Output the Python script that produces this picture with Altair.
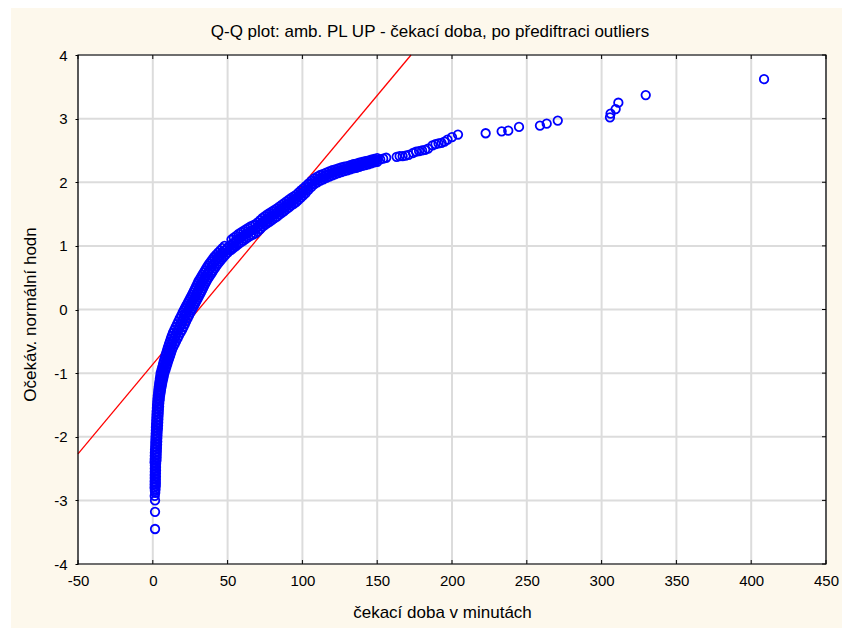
import altair as alt
import pandas as pd

# ---------------- text ----------------
title_text = "Q-Q plot: amb. PL UP - čekací doba, po přediftraci outliers"
x_title = "čekací doba v minutách"
y_title = "Očekáv. normální hodn"

x_ticks = [-50, 0, 50, 100, 150, 200, 250, 300, 350, 400, 450]
y_ticks = [-4, -3, -2, -1, 0, 1, 2, 3, 4]

# ---------------- data ----------------
# lowest isolated points
tail_low_x = [1.5, 1.5, 1.5, 1.3, 1.6, 1.4, 1.8]
tail_low_y = [-3.45, -3.18, -3.0, -2.93, -2.88, -2.85, -2.83]

# steep lower part of the curve (x close to 0)
seg_a_y = [-2.800, -2.775, -2.750, -2.725, -2.700, -2.675, -2.650, -2.625, -2.600, -2.575,
           -2.550, -2.525, -2.500, -2.475, -2.450, -2.425, -2.400, -2.375, -2.350, -2.325,
           -2.300, -2.275, -2.250, -2.225, -2.200, -2.175, -2.150, -2.125, -2.100, -2.075,
           -2.050, -2.025, -2.000, -1.975, -1.950, -1.925, -1.900, -1.875, -1.850, -1.825,
           -1.800, -1.775, -1.750, -1.725, -1.700, -1.675, -1.650, -1.625, -1.600, -1.575,
           -1.550, -1.525, -1.500, -1.475, -1.450, -1.425]
seg_a_x = [1.2, 2.0, 1.25, 2.05, 1.25, 2.05, 1.3, 2.1, 1.3, 2.1,
           1.35, 2.15, 1.35, 2.15, 1.4, 2.2, 1.2, 2.45, 1.3, 2.55,
           1.35, 2.6, 1.4, 2.7, 1.5, 2.75, 1.6, 2.85, 1.65, 2.95,
           1.75, 3.0, 1.85, 3.1, 1.95, 3.2, 2.05, 3.4, 2.1, 3.5,
           2.2, 3.6, 2.3, 3.7, 2.4, 3.8, 2.5, 3.95, 2.6, 4.05,
           2.75, 4.2, 2.85, 4.3, 3.0, 4.5]

# bend of the curve: band read as middle, left and right edge of the thick stroke
seg_b_y = [-1.400, -1.355, -1.310, -1.265, -1.220, -1.175, -1.130, -1.085, -1.040, -0.995,
           -0.950, -0.905, -0.860, -0.815, -0.770, -0.725, -0.680, -0.635, -0.590, -0.545,
           -0.500, -0.455, -0.410, -0.365, -0.320, -0.275, -0.230, -0.185, -0.140, -0.095,
           -0.050]
seg_b_x_mid = [3.85, 4.1, 4.4, 4.6, 4.9, 5.2, 5.5, 5.85, 6.2, 6.55,
               7.15, 7.7, 8.25, 8.8, 9.4, 10.0, 10.6, 11.2, 11.9, 12.7,
               13.5, 14.3, 15.1, 16.0, 17.0, 17.9, 18.8, 19.7, 20.6, 21.6,
               22.5]
seg_b_x_lo = [3.15, 3.35, 3.6, 3.75, 4.0, 4.25, 4.5, 4.75, 5.05, 5.3,
              5.85, 6.35, 6.85, 7.35, 7.9, 8.45, 9.0, 9.6, 10.15, 10.8,
              11.45, 12.1, 12.75, 13.5, 14.4, 15.3, 16.2, 17.1, 18.0, 19.0,
              19.9]
seg_b_x_hi = [4.55, 4.85, 5.2, 5.45, 5.8, 6.15, 6.5, 6.95, 7.35, 7.8,
              8.45, 9.05, 9.65, 10.25, 10.9, 11.55, 12.2, 12.8, 13.65, 14.6,
              15.55, 16.5, 17.45, 18.5, 19.6, 20.5, 21.4, 22.3, 23.2, 24.2,
              25.1]

# middle part
seg_c_y = [-0.015, 0.020, 0.055, 0.090, 0.125, 0.160, 0.195, 0.230, 0.265, 0.300,
           0.335, 0.370, 0.405, 0.440, 0.475, 0.510, 0.545, 0.580, 0.615, 0.650,
           0.685, 0.720, 0.755, 0.790, 0.825, 0.860, 0.895, 0.930, 0.965, 1.000]
seg_c_x_mid = [23.3, 24.05, 24.85, 25.65, 26.4, 27.2, 27.95, 28.75, 29.5, 30.25,
               31.0, 31.7, 32.45, 33.15, 33.95, 34.9, 35.85, 36.8, 37.7, 38.65,
               39.6, 40.65, 41.85, 43.0, 44.15, 45.4, 46.85, 48.3, 49.75, 51.2]
seg_c_x_lo = [20.7, 21.45, 22.25, 23.05, 23.8, 24.6, 25.35, 26.15, 26.9, 27.65,
              28.4, 29.1, 29.85, 30.5, 31.3, 32.2, 33.1, 34.0, 34.9, 35.8,
              36.7, 37.7, 38.85, 39.95, 41.05, 42.25, 43.65, 45.1, 46.55, 48.0]
seg_c_x_hi = [25.9, 26.65, 27.45, 28.25, 29.0, 29.8, 30.55, 31.35, 32.1, 32.85,
              33.6, 34.3, 35.05, 35.8, 36.6, 37.6, 38.6, 39.6, 40.5, 41.5,
              42.5, 43.6, 44.85, 46.05, 47.25, 48.55, 50.05, 51.5, 52.95, 54.4]

# flatter upper part
seg_d_x = [52.6, 54.2, 55.8, 57.4, 59.0, 60.6, 62.2, 63.8, 65.4, 67.0,
           68.6, 70.2, 71.8, 73.4, 75.0, 76.6, 78.2, 79.8, 81.4, 83.0,
           84.6, 86.2, 87.8, 89.4, 91.0, 92.6, 94.2, 95.8, 97.4, 99.0,
           100.6, 102.2]
seg_d_y_mid = [1.02, 1.05, 1.08, 1.11, 1.135, 1.16, 1.185, 1.21, 1.235, 1.25,
               1.27, 1.30, 1.335, 1.37, 1.40, 1.425, 1.45, 1.475, 1.50, 1.525,
               1.555, 1.58, 1.61, 1.64, 1.665, 1.695, 1.72, 1.745, 1.78, 1.815,
               1.85, 1.885]
seg_d_y_hi = [1.100, 1.129, 1.158, 1.188, 1.212, 1.236, 1.260, 1.284, 1.308, 1.323,
              1.342, 1.371, 1.405, 1.439, 1.468, 1.493, 1.517, 1.541, 1.565, 1.589,
              1.618, 1.643, 1.672, 1.701, 1.725, 1.754, 1.778, 1.803, 1.837, 1.871,
              1.905, 1.940]
seg_d_y_lo = [0.940, 0.971, 1.002, 1.032, 1.058, 1.084, 1.110, 1.136, 1.162, 1.177,
              1.198, 1.229, 1.265, 1.301, 1.332, 1.357, 1.383, 1.409, 1.435, 1.461,
              1.492, 1.517, 1.548, 1.579, 1.605, 1.636, 1.662, 1.687, 1.723, 1.759,
              1.795, 1.830]

seg_e_x = [104, 106, 108, 110, 112, 114, 116, 118, 120, 122,
           124, 126, 128, 130, 132, 134, 136, 138, 140, 142,
           144, 146, 148, 150]
seg_e_y_mid = [1.93, 1.975, 2.015, 2.045, 2.07, 2.09, 2.11, 2.13, 2.15, 2.165,
               2.18, 2.195, 2.21, 2.22, 2.235, 2.25, 2.26, 2.275, 2.29, 2.30,
               2.31, 2.325, 2.34, 2.35]
seg_e_y_hi = [1.980, 2.023, 2.061, 2.090, 2.114, 2.133, 2.152, 2.171, 2.190, 2.204,
              2.218, 2.232, 2.246, 2.255, 2.269, 2.283, 2.293, 2.307, 2.321, 2.330,
              2.340, 2.354, 2.368, 2.378]
seg_e_y_lo = [1.880, 1.927, 1.969, 2.000, 2.026, 2.047, 2.068, 2.089, 2.110, 2.126,
              2.142, 2.158, 2.174, 2.185, 2.201, 2.217, 2.227, 2.243, 2.259, 2.270,
              2.280, 2.296, 2.312, 2.322]

# sparse upper tail
tail_high_x = [152, 154, 156, 163, 165, 167, 169, 171, 174, 176,
               178, 180, 182, 184, 187, 189, 191, 193, 195, 197,
               200, 204, 222.5, 233.2, 237.6, 244.8, 258.8, 263.3, 270.7,
               305.6, 306.0, 309.4, 311.2, 329.5, 408.6]
tail_high_y = [2.36, 2.37, 2.385, 2.40, 2.41, 2.41, 2.42, 2.43, 2.46, 2.48,
               2.49, 2.50, 2.51, 2.53, 2.58, 2.60, 2.61, 2.62, 2.64, 2.67,
               2.71, 2.75, 2.77, 2.80, 2.81, 2.87, 2.89, 2.92, 2.97,
               3.02, 3.08, 3.15, 3.25, 3.37, 3.62]

# reference line
line_x = [-50, 172.6]
line_y = [-2.27, 4.0]

# ---------------- build ----------------
qx = (tail_low_x + seg_a_x
      + seg_b_x_mid + seg_b_x_lo + seg_b_x_hi
      + seg_c_x_mid + seg_c_x_lo + seg_c_x_hi
      + seg_d_x * 3 + seg_e_x * 3 + tail_high_x)
qy = (tail_low_y + seg_a_y
      + seg_b_y * 3
      + seg_c_y * 3
      + seg_d_y_mid + seg_d_y_hi + seg_d_y_lo
      + seg_e_y_mid + seg_e_y_hi + seg_e_y_lo + tail_high_y)
pts = pd.DataFrame({"x": qx, "y": qy})
line_df = pd.DataFrame({"x": line_x, "y": line_y})
xt = pd.DataFrame({"x": x_ticks})
yt = pd.DataFrame({"y": y_ticks})
one = pd.DataFrame({"a": [0]})

W, H = 748, 509
FONT = "Liberation Sans"
CREAM = "#FDF8EC"
GRID = "#DCDCDC"

xs = alt.Scale(domain=[-50, 450], nice=False, zero=False)
ys = alt.Scale(domain=[-4, 4], nice=False, zero=False)

x_axis = alt.Axis(values=x_ticks, grid=False, domain=False, ticks=False,
                  labelExpr="datum.value + ''",
                  labelFont=FONT, labelFontSize=15, labelColor="#000000",
                  labelPadding=9, labelFlush=False, labelOverlap=False,
                  title=x_title, titleFont=FONT, titleFontSize=17, titleFontWeight="normal",
                  titleColor="#000000", titleX=364, titleY=48, titleAlign="center",
                  titleBaseline="middle", zindex=1)
y_axis = alt.Axis(values=y_ticks, grid=False, domain=False, ticks=True, tickSize=3,
                  tickColor="#000000", labelExpr="datum.value + ''",
                  labelFont=FONT, labelFontSize=15,
                  labelColor="#000000", labelPadding=8, labelFlush=False, labelOverlap=False,
                  title=y_title, titleFont=FONT, titleFontSize=17, titleFontWeight="normal",
                  titleColor="#000000", titleX=-48, titleY=259, titleAlign="center",
                  titleBaseline="middle", titleAngle=270, zindex=1)

bg = alt.Chart(one).mark_rect(color=CREAM).encode(
    x=alt.value(-67), x2=alt.value(W + 16), y=alt.value(-47), y2=alt.value(H + 64))
plotbg = alt.Chart(one).mark_rect(color="#FFFFFF").encode(
    x=alt.value(0), x2=alt.value(W), y=alt.value(0), y2=alt.value(H))
vgrid = alt.Chart(xt).mark_rule(color=GRID, strokeWidth=2).encode(
    x=alt.X("x:Q", scale=xs), y=alt.value(0), y2=alt.value(H))
hgrid = alt.Chart(yt).mark_rule(color=GRID, strokeWidth=2).encode(
    y=alt.Y("y:Q", scale=ys), x=alt.value(0), x2=alt.value(W))
tick_bot = alt.Chart(xt).mark_rule(color="#000000", strokeWidth=1).encode(
    x=alt.X("x:Q", scale=xs), y=alt.value(H), y2=alt.value(H - 4))
tick_top = alt.Chart(xt).mark_rule(color="#000000", strokeWidth=1).encode(
    x=alt.X("x:Q", scale=xs), y=alt.value(0), y2=alt.value(4))
tick_right = alt.Chart(yt).mark_rule(color="#000000", strokeWidth=1).encode(
    y=alt.Y("y:Q", scale=ys), x=alt.value(W), x2=alt.value(W - 4))
ref_line = alt.Chart(line_df).mark_line(color="#FF0000", strokeWidth=1.3).encode(
    x=alt.X("x:Q", scale=xs), y=alt.Y("y:Q", scale=ys))
points = alt.Chart(pts).mark_point(shape="circle", filled=False, size=72, strokeWidth=1.8,
                                   color="#0000FF", opacity=1).encode(
    x=alt.X("x:Q", scale=xs, axis=x_axis), y=alt.Y("y:Q", scale=ys, axis=y_axis))
frame = alt.Chart(one).mark_rect(fill="transparent", stroke="#000000", strokeWidth=1.2).encode(
    x=alt.value(0), x2=alt.value(W), y=alt.value(0), y2=alt.value(H))
title = alt.Chart(one).mark_text(font=FONT, fontSize=17, color="#000000",
                                 align="center", baseline="middle").encode(
    text=alt.value(title_text), x=alt.value(352), y=alt.value(-23))

chart = alt.layer(bg, plotbg, vgrid, hgrid, ref_line, points, tick_bot, tick_top,
                  tick_right, frame, title).properties(
    width=W, height=H,
    autosize=alt.AutoSizeParams(type="none"),
    padding={"left": 78, "top": 55, "right": 16, "bottom": 64},
    background="#FFFFFF",
).configure_view(stroke="transparent")

chart.save("out.html", embed_options={"renderer": "svg", "actions": False})
